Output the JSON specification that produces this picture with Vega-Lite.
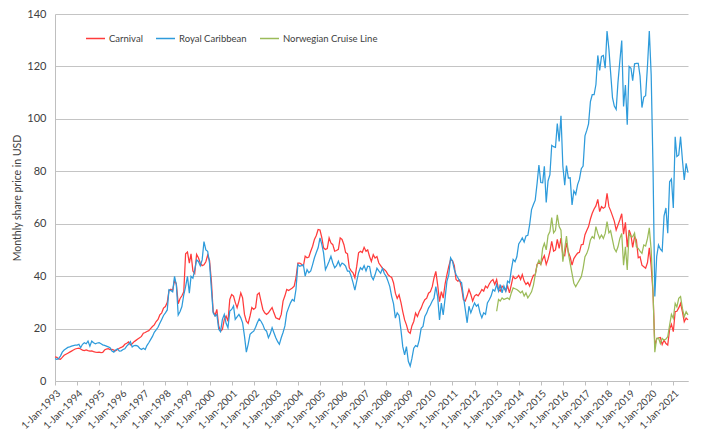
{
"$schema": "https://vega.github.io/schema/vega-lite/v6.json",
"width": 633, "height": 367,
"autosize": {"type": "none"},
"padding": {"left": 55, "top": 14, "right": 23, "bottom": 54},
"background": "white",
"config": {"font": "Lato", "view": {"stroke": null}},
"data": {"values": [
{"d":"1993-01-01","C":9.2,"R":8.5},{"d":"1993-02-01","C":9.0,"R":8.3},{"d":"1993-03-01","C":8.4,"R":8.5},{"d":"1993-04-01","C":8.3,"R":9.5},{"d":"1993-05-01","C":9.0,"R":11.0},{"d":"1993-06-01","C":9.8,"R":11.8},{"d":"1993-07-01","C":10.2,"R":12.3},{"d":"1993-08-01","C":10.6,"R":12.8},{"d":"1993-09-01","C":11.0,"R":13.0},{"d":"1993-10-01","C":11.4,"R":13.3},{"d":"1993-11-01","C":11.8,"R":13.5},{"d":"1993-12-01","C":12.2,"R":13.7},
{"d":"1994-01-01","C":12.4,"R":13.7},{"d":"1994-02-01","C":12.5,"R":14.0},{"d":"1994-03-01","C":12.2,"R":12.7},{"d":"1994-04-01","C":11.8,"R":14.0},{"d":"1994-05-01","C":11.6,"R":14.6},{"d":"1994-06-01","C":11.9,"R":14.2},{"d":"1994-07-01","C":11.6,"R":15.2},{"d":"1994-08-01","C":11.4,"R":13.3},{"d":"1994-09-01","C":11.5,"R":15.2},{"d":"1994-10-01","C":11.2,"R":14.6},{"d":"1994-11-01","C":11.0,"R":14.2},{"d":"1994-12-01","C":10.9,"R":14.5},
{"d":"1995-01-01","C":11.0,"R":14.6},{"d":"1995-02-01","C":10.8,"R":14.2},{"d":"1995-03-01","C":10.9,"R":13.8},{"d":"1995-04-01","C":11.8,"R":13.6},{"d":"1995-05-01","C":12.2,"R":13.3},{"d":"1995-06-01","C":12.3,"R":13.0},{"d":"1995-07-01","C":12.0,"R":12.7},{"d":"1995-08-01","C":12.1,"R":11.4},{"d":"1995-09-01","C":11.8,"R":11.0},{"d":"1995-10-01","C":11.5,"R":11.8},{"d":"1995-11-01","C":12.0,"R":12.3},{"d":"1995-12-01","C":12.5,"R":11.4},
{"d":"1996-01-01","C":12.8,"R":11.5},{"d":"1996-02-01","C":13.2,"R":12.0},{"d":"1996-03-01","C":14.0,"R":12.3},{"d":"1996-04-01","C":14.4,"R":13.3},{"d":"1996-05-01","C":14.9,"R":14.0},{"d":"1996-06-01","C":13.8,"R":15.0},{"d":"1996-07-01","C":14.2,"R":13.0},{"d":"1996-08-01","C":15.0,"R":13.5},{"d":"1996-09-01","C":15.5,"R":13.6},{"d":"1996-10-01","C":16.0,"R":13.3},{"d":"1996-11-01","C":16.5,"R":12.5},{"d":"1996-12-01","C":17.0,"R":12.0},
{"d":"1997-01-01","C":18.2,"R":12.5},{"d":"1997-02-01","C":18.5,"R":12.0},{"d":"1997-03-01","C":18.9,"R":13.5},{"d":"1997-04-01","C":19.2,"R":14.6},{"d":"1997-05-01","C":20.0,"R":15.8},{"d":"1997-06-01","C":20.8,"R":17.0},{"d":"1997-07-01","C":21.4,"R":18.6},{"d":"1997-08-01","C":22.7,"R":19.5},{"d":"1997-09-01","C":23.5,"R":20.5},{"d":"1997-10-01","C":25.2,"R":22.0},{"d":"1997-11-01","C":26.0,"R":23.5},{"d":"1997-12-01","C":27.8,"R":25.0},
{"d":"1998-01-01","C":28.4,"R":26.0},{"d":"1998-02-01","C":30.0,"R":27.1},{"d":"1998-03-01","C":34.5,"R":34.8},{"d":"1998-04-01","C":35.0,"R":34.5},{"d":"1998-05-01","C":34.5,"R":34.0},{"d":"1998-06-01","C":38.5,"R":39.9},{"d":"1998-07-01","C":37.0,"R":36.7},{"d":"1998-08-01","C":29.5,"R":25.2},{"d":"1998-09-01","C":31.5,"R":26.5},{"d":"1998-10-01","C":32.5,"R":28.4},{"d":"1998-11-01","C":34.0,"R":32.9},{"d":"1998-12-01","C":48.5,"R":36.0},
{"d":"1999-01-01","C":49.2,"R":39.9},{"d":"1999-02-01","C":45.0,"R":33.5},{"d":"1999-03-01","C":48.5,"R":39.9},{"d":"1999-04-01","C":42.0,"R":39.2},{"d":"1999-05-01","C":41.0,"R":42.4},{"d":"1999-06-01","C":48.3,"R":46.2},{"d":"1999-07-01","C":47.0,"R":45.6},{"d":"1999-08-01","C":45.0,"R":44.0},{"d":"1999-09-01","C":44.0,"R":46.2},{"d":"1999-10-01","C":44.3,"R":53.2},{"d":"1999-11-01","C":45.5,"R":50.0},{"d":"1999-12-01","C":48.0,"R":49.5},
{"d":"2000-01-01","C":46.0,"R":45.0},{"d":"2000-02-01","C":38.0,"R":35.0},{"d":"2000-03-01","C":26.5,"R":26.0},{"d":"2000-04-01","C":25.0,"R":24.8},{"d":"2000-05-01","C":27.3,"R":25.4},{"d":"2000-06-01","C":21.0,"R":19.7},{"d":"2000-07-01","C":19.0,"R":18.8},{"d":"2000-08-01","C":19.7,"R":23.5},{"d":"2000-09-01","C":23.5,"R":25.4},{"d":"2000-10-01","C":24.8,"R":22.0},{"d":"2000-11-01","C":22.8,"R":20.3},{"d":"2000-12-01","C":31.1,"R":26.7},
{"d":"2001-01-01","C":33.0,"R":27.3},{"d":"2001-02-01","C":32.4,"R":28.6},{"d":"2001-03-01","C":30.0,"R":23.5},{"d":"2001-04-01","C":28.0,"R":24.5},{"d":"2001-05-01","C":30.5,"R":25.4},{"d":"2001-06-01","C":33.6,"R":24.1},{"d":"2001-07-01","C":31.7,"R":22.2},{"d":"2001-08-01","C":25.4,"R":17.1},{"d":"2001-09-01","C":22.8,"R":11.0},{"d":"2001-10-01","C":22.0,"R":14.0},{"d":"2001-11-01","C":24.8,"R":17.8},{"d":"2001-12-01","C":28.0,"R":18.5},
{"d":"2002-01-01","C":27.3,"R":19.0},{"d":"2002-02-01","C":28.0,"R":20.5},{"d":"2002-03-01","C":33.0,"R":22.2},{"d":"2002-04-01","C":33.6,"R":23.7},{"d":"2002-05-01","C":30.5,"R":22.8},{"d":"2002-06-01","C":27.3,"R":21.5},{"d":"2002-07-01","C":26.0,"R":19.7},{"d":"2002-08-01","C":25.4,"R":19.0},{"d":"2002-09-01","C":26.0,"R":16.5},{"d":"2002-10-01","C":27.0,"R":18.0},{"d":"2002-11-01","C":28.0,"R":20.3},{"d":"2002-12-01","C":26.0,"R":18.4},
{"d":"2003-01-01","C":24.1,"R":16.5},{"d":"2003-02-01","C":23.8,"R":15.0},{"d":"2003-03-01","C":23.5,"R":14.0},{"d":"2003-04-01","C":25.4,"R":16.5},{"d":"2003-05-01","C":30.5,"R":18.5},{"d":"2003-06-01","C":32.5,"R":21.0},{"d":"2003-07-01","C":34.9,"R":26.0},{"d":"2003-08-01","C":34.5,"R":28.0},{"d":"2003-09-01","C":35.0,"R":29.8},{"d":"2003-10-01","C":35.5,"R":31.1},{"d":"2003-11-01","C":36.2,"R":30.5},{"d":"2003-12-01","C":39.4,"R":35.0},
{"d":"2004-01-01","C":45.0,"R":44.4},{"d":"2004-02-01","C":45.0,"R":43.8},{"d":"2004-03-01","C":44.5,"R":44.0},{"d":"2004-04-01","C":43.8,"R":44.4},{"d":"2004-05-01","C":47.6,"R":40.0},{"d":"2004-06-01","C":47.0,"R":42.5},{"d":"2004-07-01","C":47.3,"R":41.3},{"d":"2004-08-01","C":49.5,"R":42.0},{"d":"2004-09-01","C":51.4,"R":44.4},{"d":"2004-10-01","C":54.0,"R":47.0},{"d":"2004-11-01","C":55.5,"R":49.0},{"d":"2004-12-01","C":57.8,"R":50.8},
{"d":"2005-01-01","C":57.6,"R":54.6},{"d":"2005-02-01","C":54.6,"R":52.0},{"d":"2005-03-01","C":50.8,"R":48.9},{"d":"2005-04-01","C":50.2,"R":42.5},{"d":"2005-05-01","C":50.5,"R":44.0},{"d":"2005-06-01","C":54.6,"R":45.7},{"d":"2005-07-01","C":52.7,"R":47.6},{"d":"2005-08-01","C":52.0,"R":45.0},{"d":"2005-09-01","C":49.5,"R":43.2},{"d":"2005-10-01","C":49.8,"R":44.0},{"d":"2005-11-01","C":50.2,"R":45.7},{"d":"2005-12-01","C":54.6,"R":43.8},
{"d":"2006-01-01","C":54.0,"R":45.0},{"d":"2006-02-01","C":52.0,"R":44.5},{"d":"2006-03-01","C":49.0,"R":43.8},{"d":"2006-04-01","C":48.5,"R":41.9},{"d":"2006-05-01","C":43.2,"R":41.9},{"d":"2006-06-01","C":42.0,"R":40.0},{"d":"2006-07-01","C":41.3,"R":37.5},{"d":"2006-08-01","C":39.4,"R":34.7},{"d":"2006-09-01","C":43.8,"R":38.1},{"d":"2006-10-01","C":48.9,"R":41.3},{"d":"2006-11-01","C":49.5,"R":43.2},{"d":"2006-12-01","C":49.0,"R":42.5},
{"d":"2007-01-01","C":51.0,"R":44.0},{"d":"2007-02-01","C":49.5,"R":42.0},{"d":"2007-03-01","C":50.0,"R":43.8},{"d":"2007-04-01","C":47.5,"R":43.7},{"d":"2007-05-01","C":45.6,"R":39.9},{"d":"2007-06-01","C":48.2,"R":38.6},{"d":"2007-07-01","C":46.9,"R":40.5},{"d":"2007-08-01","C":47.5,"R":43.0},{"d":"2007-09-01","C":45.0,"R":42.0},{"d":"2007-10-01","C":44.0,"R":41.1},{"d":"2007-11-01","C":43.0,"R":43.0},{"d":"2007-12-01","C":42.5,"R":41.0},
{"d":"2008-01-01","C":41.8,"R":39.9},{"d":"2008-02-01","C":40.5,"R":38.0},{"d":"2008-03-01","C":40.0,"R":36.0},{"d":"2008-04-01","C":39.5,"R":32.2},{"d":"2008-05-01","C":37.5,"R":29.5},{"d":"2008-06-01","C":33.5,"R":24.0},{"d":"2008-07-01","C":31.5,"R":26.0},{"d":"2008-08-01","C":32.9,"R":25.0},{"d":"2008-09-01","C":30.0,"R":19.5},{"d":"2008-10-01","C":26.5,"R":13.1},{"d":"2008-11-01","C":23.3,"R":10.0},{"d":"2008-12-01","C":21.4,"R":13.1},
{"d":"2009-01-01","C":18.8,"R":7.5},{"d":"2009-02-01","C":18.2,"R":5.7},{"d":"2009-03-01","C":21.0,"R":8.5},{"d":"2009-04-01","C":22.7,"R":12.5},{"d":"2009-05-01","C":25.9,"R":13.5},{"d":"2009-06-01","C":24.6,"R":13.1},{"d":"2009-07-01","C":26.5,"R":15.7},{"d":"2009-08-01","C":27.8,"R":20.1},{"d":"2009-09-01","C":29.7,"R":20.8},{"d":"2009-10-01","C":31.0,"R":24.6},{"d":"2009-11-01","C":31.6,"R":25.9},{"d":"2009-12-01","C":33.5,"R":27.8},
{"d":"2010-01-01","C":34.1,"R":29.0},{"d":"2010-02-01","C":36.0,"R":30.5},{"d":"2010-03-01","C":39.2,"R":31.6},{"d":"2010-04-01","C":41.8,"R":36.0},{"d":"2010-05-01","C":36.7,"R":32.2},{"d":"2010-06-01","C":30.3,"R":23.3},{"d":"2010-07-01","C":34.1,"R":29.7},{"d":"2010-08-01","C":31.6,"R":25.2},{"d":"2010-09-01","C":37.0,"R":31.5},{"d":"2010-10-01","C":40.5,"R":38.0},{"d":"2010-11-01","C":43.7,"R":40.5},{"d":"2010-12-01","C":46.2,"R":47.0},
{"d":"2011-01-01","C":46.0,"R":45.7},{"d":"2011-02-01","C":44.0,"R":42.5},{"d":"2011-03-01","C":38.7,"R":40.6},{"d":"2011-04-01","C":38.1,"R":39.4},{"d":"2011-05-01","C":38.5,"R":38.1},{"d":"2011-06-01","C":35.5,"R":37.5},{"d":"2011-07-01","C":31.0,"R":32.4},{"d":"2011-08-01","C":30.5,"R":27.3},{"d":"2011-09-01","C":32.5,"R":22.2},{"d":"2011-10-01","C":34.9,"R":28.5},{"d":"2011-11-01","C":33.0,"R":26.0},{"d":"2011-12-01","C":30.5,"R":27.9},
{"d":"2012-01-01","C":32.4,"R":29.8},{"d":"2012-02-01","C":33.0,"R":28.5},{"d":"2012-03-01","C":32.5,"R":29.2},{"d":"2012-04-01","C":33.6,"R":26.0},{"d":"2012-05-01","C":34.9,"R":24.1},{"d":"2012-06-01","C":34.3,"R":26.0},{"d":"2012-07-01","C":36.2,"R":25.4},{"d":"2012-08-01","C":35.5,"R":29.8},{"d":"2012-09-01","C":37.0,"R":31.0},{"d":"2012-10-01","C":38.1,"R":32.4},{"d":"2012-11-01","C":38.7,"R":34.9},{"d":"2012-12-01","C":36.8,"R":34.3},
{"d":"2013-01-01","C":38.7,"R":36.8,"N":26.6},{"d":"2013-02-01","C":34.9,"R":34.3,"N":31.1},{"d":"2013-03-01","C":34.3,"R":36.8,"N":30.5},{"d":"2013-04-01","C":36.2,"R":33.6,"N":31.7},{"d":"2013-05-01","C":35.5,"R":36.2,"N":31.1},{"d":"2013-06-01","C":34.3,"R":34.3,"N":31.4},{"d":"2013-07-01","C":36.2,"R":38.1,"N":31.7},{"d":"2013-08-01","C":33.6,"R":37.5,"N":31.1},{"d":"2013-09-01","C":36.8,"R":42.5,"N":33.6},{"d":"2013-10-01","C":40.0,"R":46.4,"N":35.5},{"d":"2013-11-01","C":39.0,"R":45.5,"N":35.2},{"d":"2013-12-01","C":39.4,"R":47.4,"N":34.9},
{"d":"2014-01-01","C":40.3,"R":52.3,"N":34.3},{"d":"2014-02-01","C":38.7,"R":53.4,"N":33.6},{"d":"2014-03-01","C":40.6,"R":54.6,"N":34.3},{"d":"2014-04-01","C":38.1,"R":53.0,"N":32.4},{"d":"2014-05-01","C":36.8,"R":55.3,"N":33.6},{"d":"2014-06-01","C":37.6,"R":55.6,"N":31.7},{"d":"2014-07-01","C":36.2,"R":59.7,"N":32.8},{"d":"2014-08-01","C":38.5,"R":65.4,"N":34.0},{"d":"2014-09-01","C":40.3,"R":67.3,"N":36.5},{"d":"2014-10-01","C":40.5,"R":69.0,"N":40.5},{"d":"2014-11-01","C":44.5,"R":75.4,"N":44.2},{"d":"2014-12-01","C":45.3,"R":82.4,"N":46.0},
{"d":"2015-01-01","C":44.5,"R":75.7,"N":44.5},{"d":"2015-02-01","C":46.5,"R":75.6,"N":50.6},{"d":"2015-03-01","C":47.8,"R":81.9,"N":52.5},{"d":"2015-04-01","C":44.5,"R":68.1,"N":50.0},{"d":"2015-05-01","C":46.5,"R":76.3,"N":55.5},{"d":"2015-06-01","C":49.4,"R":78.7,"N":57.0},{"d":"2015-07-01","C":53.3,"R":89.9,"N":62.3},{"d":"2015-08-01","C":49.5,"R":89.4,"N":56.5},{"d":"2015-09-01","C":50.0,"R":89.1,"N":57.5},{"d":"2015-10-01","C":54.0,"R":98.2,"N":63.4},{"d":"2015-11-01","C":50.6,"R":91.4,"N":58.9},{"d":"2015-12-01","C":54.5,"R":101.2,"N":57.5},
{"d":"2016-01-01","C":48.0,"R":82.0,"N":45.5},{"d":"2016-02-01","C":47.8,"R":74.7,"N":50.5},{"d":"2016-03-01","C":52.7,"R":82.2,"N":55.3},{"d":"2016-04-01","C":49.2,"R":77.4,"N":48.7},{"d":"2016-05-01","C":47.3,"R":77.5,"N":44.9},{"d":"2016-06-01","C":44.2,"R":67.2,"N":41.0},{"d":"2016-07-01","C":46.7,"R":72.5,"N":37.3},{"d":"2016-08-01","C":47.8,"R":71.2,"N":36.0},{"d":"2016-09-01","C":48.8,"R":74.9,"N":37.3},{"d":"2016-10-01","C":49.1,"R":76.9,"N":38.5},{"d":"2016-11-01","C":52.0,"R":81.0,"N":39.8},{"d":"2016-12-01","C":52.1,"R":82.0,"N":43.0},
{"d":"2017-01-01","C":55.8,"R":93.5,"N":47.4},{"d":"2017-02-01","C":57.5,"R":95.7,"N":48.7},{"d":"2017-03-01","C":58.9,"R":98.1,"N":50.6},{"d":"2017-04-01","C":61.8,"R":106.6,"N":53.8},{"d":"2017-05-01","C":64.0,"R":109.2,"N":55.1},{"d":"2017-06-01","C":65.6,"R":109.2,"N":54.4},{"d":"2017-07-01","C":66.8,"R":113.1,"N":58.9},{"d":"2017-08-01","C":69.3,"R":124.2,"N":56.3},{"d":"2017-09-01","C":64.6,"R":118.5,"N":54.4},{"d":"2017-10-01","C":66.5,"R":123.8,"N":55.7},{"d":"2017-11-01","C":65.9,"R":124.2,"N":54.4},{"d":"2017-12-01","C":66.4,"R":119.3,"N":56.3},
{"d":"2018-01-01","C":71.6,"R":133.5,"N":60.8},{"d":"2018-02-01","C":66.5,"R":126.5,"N":56.5},{"d":"2018-03-01","C":65.0,"R":117.7,"N":57.3},{"d":"2018-04-01","C":63.0,"R":108.1,"N":53.8},{"d":"2018-05-01","C":61.0,"R":104.9,"N":50.5},{"d":"2018-06-01","C":57.6,"R":103.6,"N":49.3},{"d":"2018-07-01","C":59.5,"R":114.0,"N":51.2},{"d":"2018-08-01","C":61.5,"R":122.1,"N":54.4},{"d":"2018-09-01","C":63.8,"R":129.9,"N":56.3},{"d":"2018-10-01","C":56.0,"R":104.7,"N":44.2},{"d":"2018-11-01","C":60.5,"R":112.9,"N":51.2},{"d":"2018-12-01","C":51.0,"R":97.8,"N":42.4},
{"d":"2019-01-01","C":57.6,"R":120.0,"N":56.3},{"d":"2019-02-01","C":55.5,"R":119.3,"N":55.1},{"d":"2019-03-01","C":51.0,"R":114.6,"N":55.0},{"d":"2019-04-01","C":55.0,"R":121.0,"N":56.4},{"d":"2019-05-01","C":53.8,"R":121.2,"N":51.2},{"d":"2019-06-01","C":47.0,"R":121.2,"N":50.6},{"d":"2019-07-01","C":47.4,"R":116.3,"N":49.5},{"d":"2019-08-01","C":44.2,"R":104.3,"N":48.7},{"d":"2019-09-01","C":43.6,"R":108.3,"N":51.9},{"d":"2019-10-01","C":43.0,"R":108.8,"N":51.5},{"d":"2019-11-01","C":45.2,"R":120.2,"N":54.4},{"d":"2019-12-01","C":50.8,"R":133.5,"N":58.4},
{"d":"2020-01-01","C":43.8,"R":116.7,"N":50.0},{"d":"2020-02-01","C":33.4,"R":80.5,"N":33.4},{"d":"2020-03-01","C":13.5,"R":32.2,"N":11.0},{"d":"2020-04-01","C":16.0,"R":47.5,"N":16.3},{"d":"2020-05-01","C":16.4,"R":51.9,"N":16.4},{"d":"2020-06-01","C":16.6,"R":50.3,"N":14.3},{"d":"2020-07-01","C":13.9,"R":49.5,"N":16.3},{"d":"2020-08-01","C":15.6,"R":63.0,"N":15.6},{"d":"2020-09-01","C":14.3,"R":66.0,"N":16.0},{"d":"2020-10-01","C":13.7,"R":56.4,"N":16.9},{"d":"2020-11-01","C":19.8,"R":76.0,"N":21.3},{"d":"2020-12-01","C":21.6,"R":77.0,"N":25.4},
{"d":"2021-01-01","C":18.8,"R":66.0,"N":23.9},{"d":"2021-02-01","C":26.5,"R":93.2,"N":29.6},{"d":"2021-03-01","C":26.6,"R":85.6,"N":28.3},{"d":"2021-04-01","C":27.9,"R":86.2,"N":31.5},{"d":"2021-05-01","C":29.6,"R":93.2,"N":32.2},{"d":"2021-06-01","C":26.4,"R":84.3,"N":27.7},{"d":"2021-07-01","C":22.6,"R":76.7,"N":24.5},{"d":"2021-08-01","C":24.0,"R":83.0,"N":26.4},{"d":"2021-09-01","C":23.3,"R":79.5,"N":25.2}
]},
"transform": [
  {"fold": ["C", "R", "N"], "as": ["s", "v"]},
  {"filter": "isValid(datum.v)"}
],
"mark": {"type": "line", "strokeWidth": 1.25},
"encoding": {
  "x": {"field": "d", "type": "temporal",
    "scale": {"type": "utc", "domain": [{"year": 1993, "month": 1, "date": 1, "utc": true}, {"year": 2021, "month": 9, "date": 1, "utc": true}]},
    "axis": {"title": null, "grid": false, "tickCount": {"interval": "year", "step": 1},
      "labelExpr": "utcFormat(datum.value, '%-d-%b-%Y')", "labelAngle": -45, "labelOverlap": false,
      "labelFontSize": 10, "labelColor": "#404040", "labelPadding": 3,
      "tickSize": 4, "tickColor": "#bfbfbf", "domainColor": "#bfbfbf"}},
  "y": {"field": "v", "type": "quantitative",
    "scale": {"domain": [0, 140], "nice": false},
    "axis": {"title": "Monthly share price in USD", "values": [0, 20, 40, 60, 80, 100, 120, 140],
      "ticks": false, "labelPadding": 9, "labelFontSize": 11, "labelColor": "#404040",
      "titleFontSize": 10.5, "titleFontWeight": "normal", "titleColor": "#404040", "titlePadding": 4,
      "gridColor": "#c4c4c4", "domainColor": "#bfbfbf"}},
  "color": {"field": "s", "type": "nominal",
    "scale": {"domain": ["C", "R", "N"], "range": ["#FF3B3B", "#2E9BDB", "#9BBB59"]},
    "legend": {"title": null, "orient": "none", "legendX": 30, "legendY": 14, "direction": "horizontal",
      "labelExpr": "datum.label == 'C' ? 'Carnival' : datum.label == 'R' ? 'Royal Caribbean' : 'Norwegian Cruise Line'",
      "symbolType": "stroke", "symbolSize": 361, "symbolStrokeWidth": 1.5,
      "labelFontSize": 9.5, "labelColor": "#404040", "labelOffset": 3, "columnPadding": 10}},
  "order": {"field": "s"}
}
}
